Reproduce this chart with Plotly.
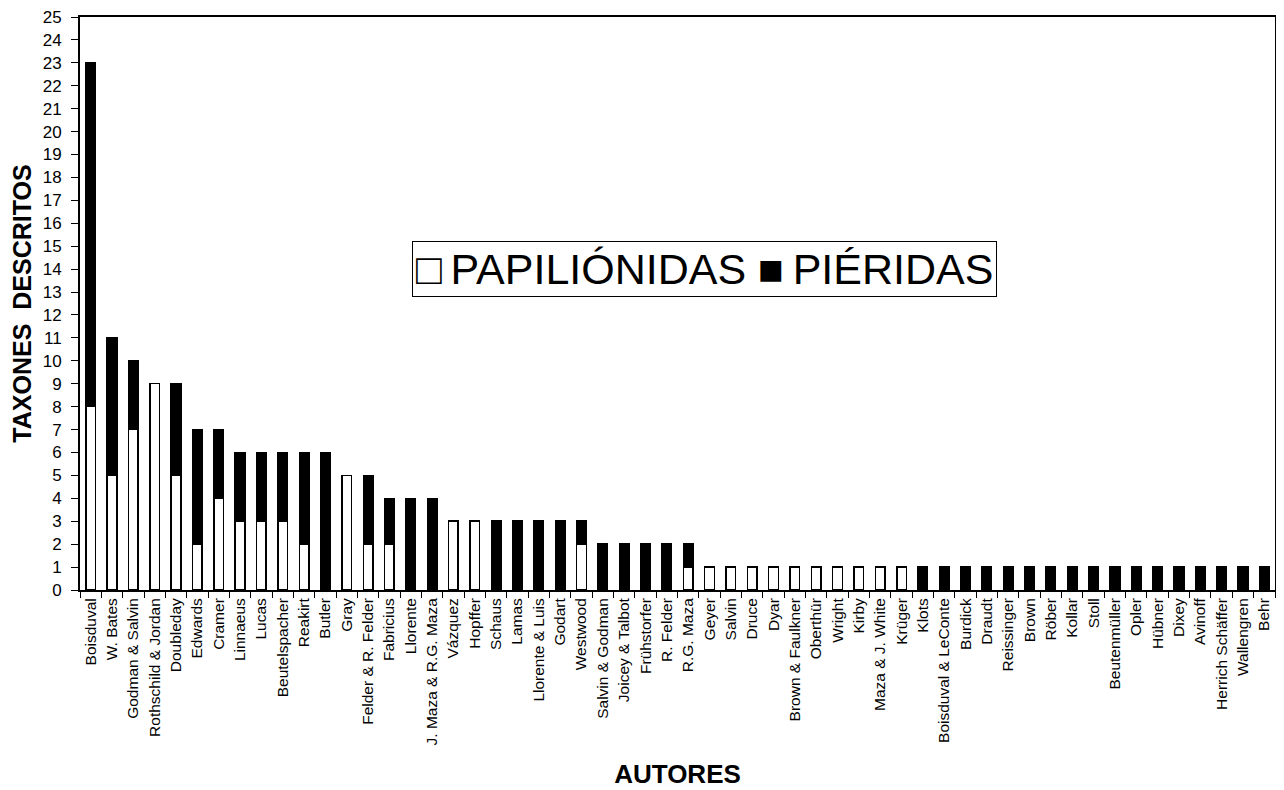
import plotly.graph_objects as go

autores = ["Boisduval", "W. Bates", "Godman & Salvin", "Rothschild & Jordan", "Doubleday",
           "Edwards", "Cramer", "Linnaeus", "Lucas", "Beutelspacher", "Reakirt", "Butler",
           "Gray", "Felder & R. Felder", "Fabricius", "Llorente", "J. Maza & R.G. Maza",
           "Vázquez", "Hopffer", "Schaus", "Lamas", "Llorente & Luis", "Godart", "Westwood",
           "Salvin & Godman", "Joicey & Talbot", "Frühstorfer", "R. Felder", "R.G. Maza",
           "Geyer", "Salvin", "Druce", "Dyar", "Brown & Faulkner", "Oberthür", "Wright",
           "Kirby", "Maza & J. White", "Krüger", "Klots", "Boisduval & LeConte", "Burdick",
           "Draudt", "Reissinger", "Brown", "Röber", "Kollar", "Stoll", "Beutenmüller",
           "Opler", "Hübner", "Dixey", "Avinoff", "Herrich Schäffer", "Wallengren", "Behr"]

papilionidas = [8, 5, 7, 9, 5, 2, 4, 3, 3, 3, 2, 0, 5, 2, 2, 0, 0, 3, 3, 0, 0, 0, 0, 2,
                0, 0, 0, 0, 1, 1, 1, 1, 1, 1, 1, 1, 1, 1, 1, 0, 0, 0, 0, 0, 0, 0, 0, 0,
                0, 0, 0, 0, 0, 0, 0, 0]
pieridas = [15, 6, 3, 0, 4, 5, 3, 3, 3, 3, 4, 6, 0, 3, 2, 4, 4, 0, 0, 3, 3, 3, 3, 1,
            2, 2, 2, 2, 1, 0, 0, 0, 0, 0, 0, 0, 0, 0, 0, 1, 1, 1, 1, 1, 1, 1, 1, 1,
            1, 1, 1, 1, 1, 1, 1, 1]

series_names = ["PAPILIÓNIDAS", "PIÉRIDAS"]

font_family = "Liberation Sans, Arial, sans-serif"

fig = go.Figure()
fig.add_trace(go.Bar(x=autores, y=papilionidas, name=series_names[0], showlegend=False,
                     marker=dict(color="white", line=dict(color="black", width=1.5))))
fig.add_trace(go.Bar(x=autores, y=pieridas, name=series_names[1], showlegend=False,
                     marker=dict(color="black", line=dict(color="black", width=1.5))))

# legend box drawn as a text annotation (large square symbols as in the original)
fig.add_annotation(
    xref="paper", yref="paper", x=0.523, y=0.56, xanchor="center", yanchor="middle",
    text="□\u2009" + series_names[0] + " ■\u2009" + series_names[1],
    showarrow=False, font=dict(size=43, family=font_family, color="black"),
    bgcolor="white", bordercolor="black", borderwidth=1, borderpad=3,
)

fig.update_layout(
    width=1284, height=790,
    barmode="stack", bargap=0.55,
    paper_bgcolor="white", plot_bgcolor="white",
    margin=dict(l=72, r=17, t=9, b=208),
    font=dict(family=font_family, color="black"),
    xaxis=dict(type="category", showline=True, linecolor="black", linewidth=2, mirror=True,
               ticks="outside", tickson="boundaries", ticklen=6, tickcolor="black",
               tickangle=-90, tickfont=dict(size=15.5), showgrid=False, automargin=False,
               title=dict(text="<b>AUTORES</b>", font=dict(size=26), standoff=20)),
    yaxis=dict(range=[0, 25], dtick=1, showline=True, linecolor="black", linewidth=2,
               mirror=True, ticks="outside", ticklen=7, tickcolor="black",
               tickfont=dict(size=17), showgrid=False, zeroline=False, automargin=False,
               ticklabeloverflow="allow", ticklabelstandoff=6,
               title=dict(text="<b>TAXONES  DESCRITOS</b>", font=dict(size=25), standoff=6)),
)

fig.write_html("out.html")
